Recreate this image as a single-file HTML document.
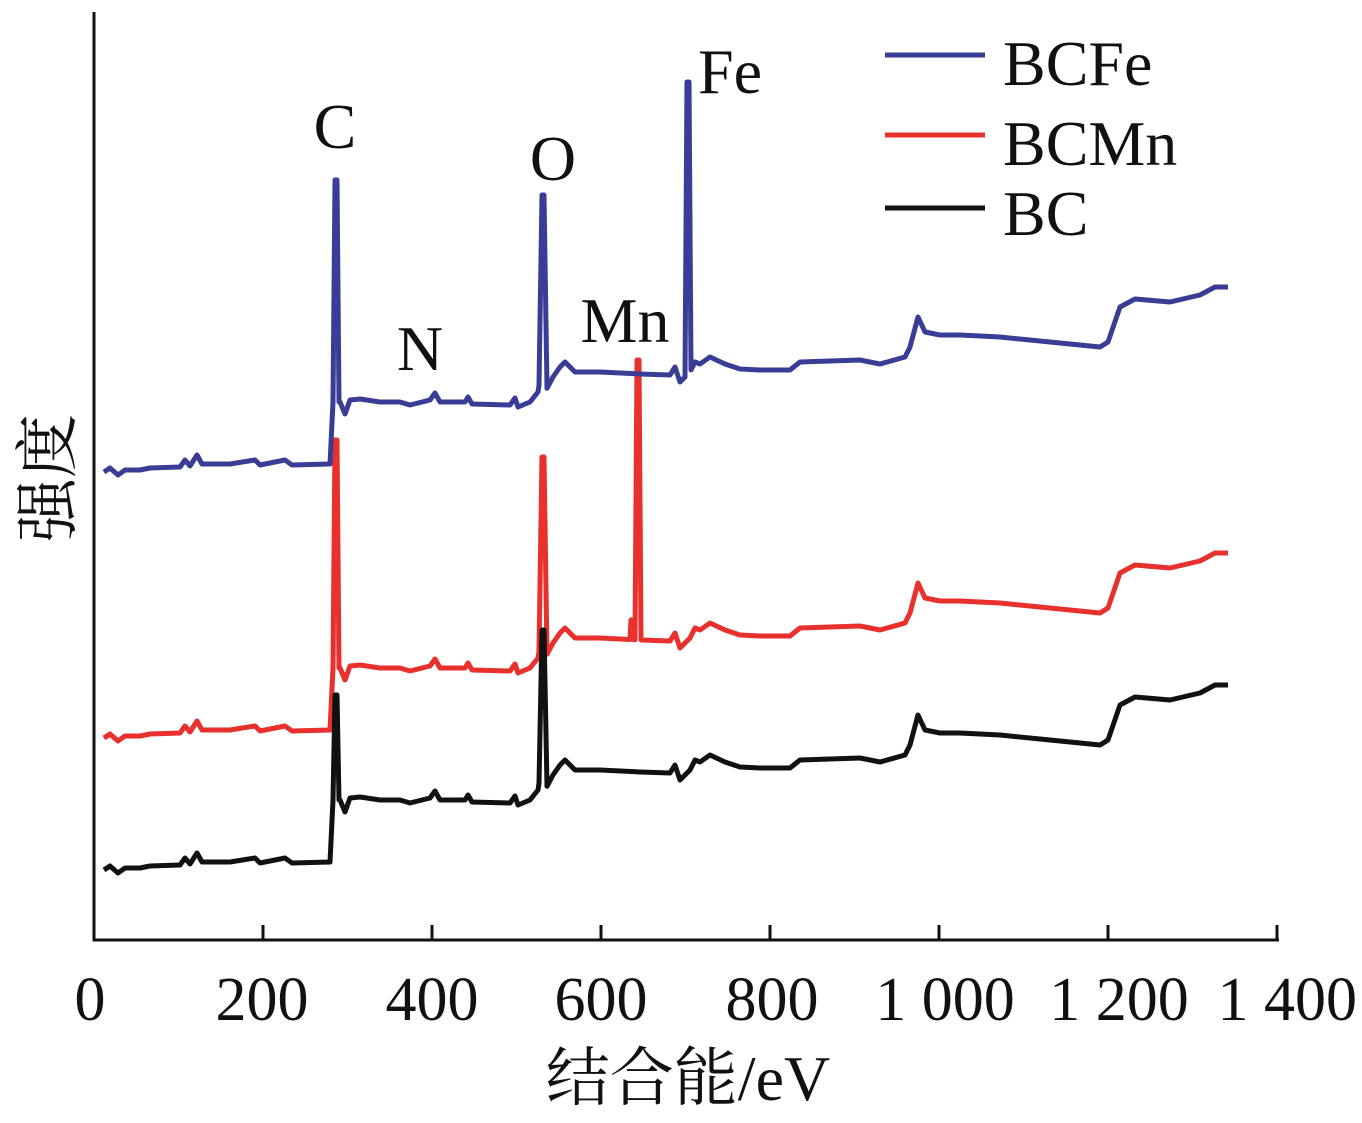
<!DOCTYPE html>
<html><head><meta charset="utf-8"><style>
html,body{margin:0;padding:0;background:#fff;}
svg{display:block;}
text{font-family:"Liberation Serif","Noto Serif CJK SC",serif;fill:#111;}
</style></head><body>
<svg id="s" width="1362" height="1123" viewBox="0 0 1362 1123" xmlns="http://www.w3.org/2000/svg">
<g stroke="#111" stroke-width="3" fill="none">
<path d="M94 12 V940 H1279"/>
<path d="M263 940 V925 M432 940 V925 M601 940 V925 M770 940 V925 M939 940 V925 M1108 940 V925 M1277 940 V925"/>
</g>
<g font-size="62" text-anchor="middle">
<text x="90" y="1020">0</text><text x="262" y="1020">200</text><text x="432" y="1020">400</text>
<text x="601" y="1020">600</text><text x="772" y="1020">800</text><text x="945" y="1020">1 000</text>
<text x="1119" y="1020">1 200</text><text x="1357" y="1020" text-anchor="end">1 400</text>
</g>
<text x="688" y="1100" font-size="64" text-anchor="middle">结合能/eV</text>
<text transform="translate(70,478) rotate(-90)" font-size="64" text-anchor="middle">强度</text>
<g font-size="64" text-anchor="middle">
<text x="335" y="148">C</text><text x="420" y="370">N</text><text x="553" y="180">O</text>
<text x="625" y="342">Mn</text><text x="730" y="93">Fe</text>
</g>
<g stroke-width="5">
<line x1="885" y1="55" x2="985" y2="55" stroke="#3a3d96"/>
<line x1="885" y1="135" x2="985" y2="135" stroke="#e8302c"/>
<line x1="885" y1="208" x2="985" y2="208" stroke="#111"/>
</g>
<g font-size="64"><text x="1003" y="85">BCFe</text><text x="1003" y="165">BCMn</text><text x="1003" y="235">BC</text></g>
<path id="pr" fill="none" stroke="#e8302c" stroke-width="5" stroke-linejoin="round"/>
<path id="pk" fill="none" stroke="#111" stroke-width="5" stroke-linejoin="round"/>
<path id="pb" fill="none" stroke="#3a3d96" stroke-width="5" stroke-linejoin="round"/>
</svg>
<script>
var base=[[104,870],[110,866],[118,873],[125,868],[140,868],[150,866],[180,865],[185,858],[190,864],[197,853],[202,862],[230,862],[255,858],[260,863],[285,858],[292,863],[330,862],[333,800],[340,800],[345,812],[350,798],[360,797],[380,800],[400,800],[410,803],[430,798],[435,791],[440,800],[465,800],[468,795],[472,802],[510,803],[515,796],[518,805],[530,800],[538,790],[541,770],[545,790],[553,775],[560,765],[565,760],[575,770],[590,770],[600,770],[640,772],[670,773],[675,765],[680,780],[690,770],[695,760],[700,762],[710,755],[725,762],[740,767],[760,768],[790,768],[800,760],[860,758],[880,762],[905,755],[910,745],[918,715],[925,730],[940,733],[960,733],[1000,735],[1050,740],[1100,745],[1108,740],[1120,705],[1135,697],[1170,700],[1200,693],[1215,685],[1228,685]];
function yat(pts,x){for(var i=1;i<pts.length;i++){if(pts[i][0]>=x){var a=pts[i-1],b=pts[i];return a[1]+(b[1]-a[1])*(x-a[0])/(b[0]-a[0]);}}return pts[pts.length-1][1];}
function build(off,spikes){
  var pts=base.map(function(p){return [p[0],p[1]+off];});
  spikes.forEach(function(s){
    var x=s[0],y=s[1],w=s[2]||3;
    var y1=yat(pts,x-w),y2=yat(pts,x+w);
    pts=pts.filter(function(p){return p[0]<x-w||p[0]>x+w;});
    pts.push([x-w,y1],[x-1,y],[x+1,y],[x+w,y2]);
    pts.sort(function(a,b){return a[0]-b[0];});
  });
  return "M"+pts.map(function(p){return p[0]+" "+p[1].toFixed(1);}).join(" L");
}
document.getElementById('pk').setAttribute('d',build(0,[[336,695,3],[543,630,4]]));
document.getElementById('pr').setAttribute('d',build(-132,[[336,440,3],[543,457,4],[632,620,2],[638,360,3]]));
document.getElementById('pb').setAttribute('d',build(-398,[[336,180,3],[543,195,4],[688,82,3]]));
</script>
</body></html>
